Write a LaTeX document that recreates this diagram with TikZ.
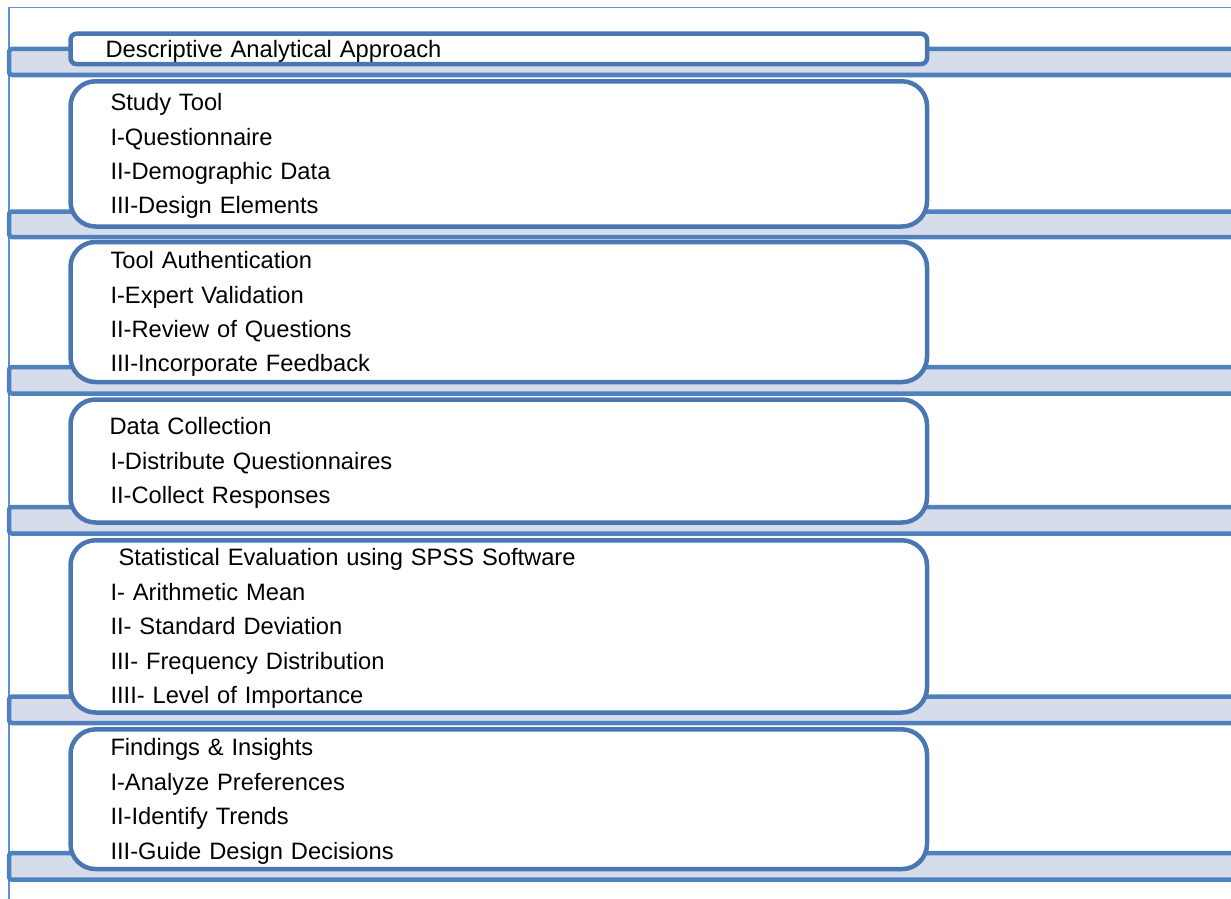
\documentclass[tikz,border=0pt]{standalone}
\usepackage{fontspec}
\setmainfont{Liberation Sans}
\definecolor{boxblue}{HTML}{4A77B2}
\definecolor{barblue}{HTML}{4F81BD}
\definecolor{barfill}{HTML}{D6DCEA}
\definecolor{frameblue}{HTML}{5B8FD6}
\tikzset{
    frame/.style={draw=frameblue,line width=1.6pt},
    band/.style={draw=barblue,fill=barfill,line width=4.5pt,rounded corners=3pt},
    stage/.style={draw=boxblue,fill=white,line width=4.5pt,rounded corners=25pt,
        text width=776.5pt,inner xsep=40pt,inner ysep=0pt,align=left,
        execute at begin node={\rule{0pt}{21.6pt}},
        font=\fontsize{23.7}{34.4}\selectfont}
}
\begin{document}
\begin{tikzpicture}[x=1pt,y=-1pt]
                \useasboundingbox (0,0) rectangle (1231,899);
                \draw[frame] (9.2,899) |- (1231,7.5);
                \draw[band] (9,49) rectangle (1250,75);
                \draw[band] (9,211.5) rectangle (1250,237);
                \draw[band] (9,367) rectangle (1250,393.5);
                \draw[band] (9,507) rectangle (1250,533.5);
                \draw[band] (9,696.7) rectangle (1250,723);
                \draw[band] (9,853) rectangle (1250,879.7);
                \node[stage,rounded corners=6pt,minimum height=30.3pt] (approach) at (498.75,48.9)
                    {\hspace*{-5pt}Descriptive Analytical Approach};
                \node[stage,minimum height=145.2pt] (tool) at (498.75,153.9)
                    {Study Tool\\I-Questionnaire\\II-Demographic Data\\III-Design Elements};
                \node[stage,minimum height=140pt] (auth) at (498.75,312)
                    {Tool Authentication\\I-Expert Validation\\II-Review of Questions\\III-Incorporate Feedback};
                \node[stage,minimum height=123pt] (collect) at (498.75,461)
                    {\hspace*{-1pt}Data Collection\\I-Distribute Questionnaires\\II-Collect Responses};
                \node[stage,minimum height=172.2pt] (stats) at (498.75,626.4)
                    {\hspace*{8pt}Statistical Evaluation using SPSS Software\\I- Arithmetic Mean\\II- Standard Deviation\\III- Frequency Distribution\\IIII- Level of Importance};
                \node[stage,minimum height=139.7pt] (findings) at (498.75,799.2)
                    {Findings \& Insights\\I-Analyze Preferences\\II-Identify Trends\\III-Guide Design Decisions};
            \end{tikzpicture}
\end{document}
